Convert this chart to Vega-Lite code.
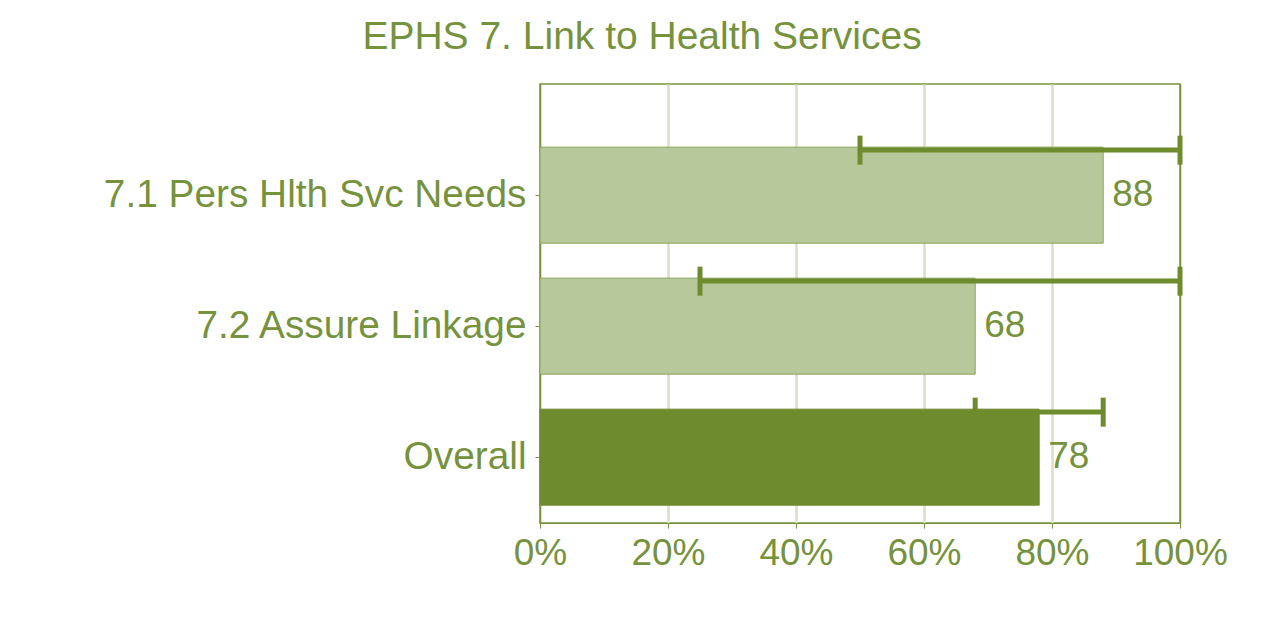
{
  "$schema": "https://vega.github.io/schema/vega-lite/v6.json",
  "width": 640,
  "height": 439,
  "autosize": {"type": "none"},
  "padding": {"left": 540, "top": 84, "right": 87, "bottom": 102},
  "background": "white",
  "title": {
    "text": "EPHS 7. Link to Health Services",
    "font": "Liberation Sans",
    "fontSize": 39,
    "fontWeight": "normal",
    "color": "#76923c",
    "anchor": "middle",
    "frame": "group",
    "dx": -218,
    "offset": 27
  },
  "data": {
    "values": [
      {"measure": "7.1 Pers Hlth Svc Needs", "score": 88, "low": 50, "high": 100, "kind": "standard"},
      {"measure": "7.2 Assure Linkage", "score": 68, "low": 25, "high": 100, "kind": "standard"},
      {"measure": "Overall", "score": 78, "low": 68, "high": 88, "kind": "overall"}
    ]
  },
  "config": {
    "view": {"stroke": "#76923c", "strokeWidth": 1.5},
    "font": "Liberation Sans"
  },
  "encoding": {
    "y": {
      "field": "measure",
      "type": "nominal",
      "sort": null,
      "scale": {"paddingInner": 0.267, "paddingOuter": 0.309, "align": 0.78},
      "axis": {
        "title": null,
        "labelFont": "Liberation Sans",
        "labelFontSize": 38.8,
        "labelColor": "#76923c",
        "labelPadding": 9,
        "domainColor": "#76923c",
        "tickColor": "#76923c",
        "tickSize": 5,
        "labelLimit": 600
      }
    }
  },
  "layer": [
    {
      "mark": {"type": "bar", "strokeWidth": 1},
      "encoding": {
        "x": {
          "field": "score",
          "type": "quantitative",
          "scale": {"domain": [0, 100], "nice": false},
          "axis": {
            "title": null,
            "values": [0, 20, 40, 60, 80, 100],
            "labelExpr": "datum.value + '%'",
            "labelFont": "Liberation Sans",
            "labelFontSize": 37,
            "labelColor": "#76923c",
            "labelPadding": 7,
            "labelOverlap": false,
            "labelFlush": false,
            "labelBound": false,
            "domainColor": "#76923c",
            "tickColor": "#76923c",
            "tickSize": 5,
            "grid": true,
            "gridColor": {"condition": {"test": "datum.value === 0 || datum.value === 100", "value": "#76923c"}, "value": "#d9e0c8"},
            "gridWidth": {"condition": {"test": "datum.value === 0 || datum.value === 100", "value": 1.5}, "value": 2.5}
          }
        },
        "color": {
          "field": "kind",
          "type": "nominal",
          "scale": {"domain": ["standard", "overall"], "range": ["#b7c99b", "#6e8b2e"]},
          "legend": null
        },
        "stroke": {
          "field": "kind",
          "type": "nominal",
          "scale": {"domain": ["standard", "overall"], "range": ["#8aa65a", "#6e8b2e"]},
          "legend": null
        }
      }
    },
    {
      "mark": {"type": "rule", "color": "#6e8b2e", "strokeWidth": 5},
      "encoding": {
        "x": {"field": "low", "type": "quantitative"},
        "x2": {"field": "high"},
        "y": {"field": "measure", "type": "nominal", "sort": null, "bandPosition": 0.03}
      }
    },
    {
      "mark": {"type": "tick", "orient": "vertical", "color": "#6e8b2e", "size": 29, "thickness": 5, "opacity": 1, "yOffset": -45},
      "encoding": {
        "x": {"field": "low", "type": "quantitative"},
        "y": {"field": "measure", "type": "nominal", "sort": null}
      }
    },
    {
      "mark": {"type": "tick", "orient": "vertical", "color": "#6e8b2e", "size": 29, "thickness": 5, "opacity": 1, "yOffset": -45},
      "encoding": {
        "x": {"field": "high", "type": "quantitative"},
        "y": {"field": "measure", "type": "nominal", "sort": null}
      }
    },
    {
      "mark": {"type": "text", "align": "left", "baseline": "middle", "dx": 9, "fontSize": 37, "color": "#76923c", "font": "Liberation Sans"},
      "encoding": {
        "x": {"field": "score", "type": "quantitative"},
        "text": {"field": "score", "type": "quantitative"}
      }
    }
  ]
}
